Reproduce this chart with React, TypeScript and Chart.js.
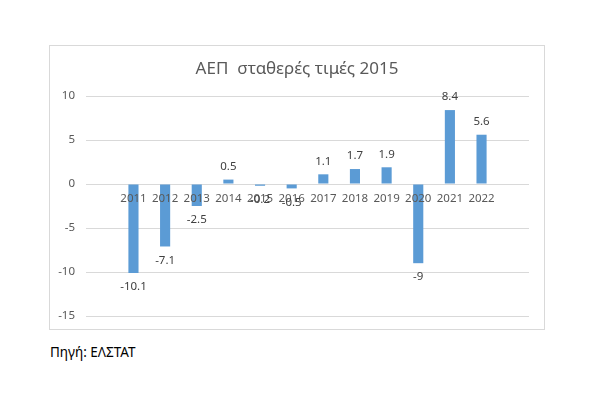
import React, { useEffect, useRef } from "react";
import { Chart, registerables } from "chart.js";

Chart.register(...registerables);

const TITLE = "ΑΕΠ  σταθερές τιμές 2015";
const SOURCE = "Πηγή: ΕΛΣΤΑΤ";
const categories = ["", "2011", "2012", "2013", "2014", "2015", "2016", "2017", "2018", "2019", "2020", "2021", "2022", ""];
const values: (number | null)[] = [null, -10.1, -7.1, -2.5, 0.5, -0.2, -0.5, 1.1, 1.7, 1.9, -9, 8.4, 5.6, null];
const yMin = -15;
const yMax = 10;
const yStep = 5;

const FONT = "'Noto Sans', 'DejaVu Sans', sans-serif";

const labelPlugin = {
  id: "valueLabels",
  afterDatasetsDraw(chart: any) {
    const ctx = chart.ctx;
    const meta = chart.getDatasetMeta(0);
    const xs = chart.scales.x;
    const ys = chart.scales.y;
    const zeroY = ys.getPixelForValue(0);
    ctx.save();
    // category labels along the zero line, drawn over the bars
    ctx.font = `11.5px ${FONT}`;
    ctx.fillStyle = "#595959";
    ctx.textAlign = "center";
    ctx.textBaseline = "middle";
    categories.forEach((c, i) => {
      if (!c) return;
      ctx.fillText(c, xs.getPixelForValue(i), zeroY + 15);
    });
    // value labels
    ctx.fillStyle = "#404040";
    meta.data.forEach((bar: any, i: number) => {
      const v = values[i];
      if (v === null || v === undefined) return;
      const y = v >= 0 ? bar.y - 13 : bar.y + 14;
      ctx.fillText(String(v), bar.x, y);
    });
    ctx.restore();
  },
  afterDraw(chart: any) {
    const ctx = chart.ctx;
    ctx.save();
    ctx.font = `17px ${FONT}`;
    ctx.fillStyle = "#595959";
    ctx.textAlign = "center";
    ctx.textBaseline = "middle";
    ctx.fillText(TITLE, chart.width / 2, 23.5);
    ctx.restore();
  },
};

export default function App() {
  const ref = useRef<HTMLCanvasElement>(null);
  useEffect(() => {
    if (!ref.current) return;
    const chart = new Chart(ref.current, {
      type: "bar",
      data: {
        labels: categories,
        datasets: [
          {
            data: values,
            backgroundColor: "#5B9BD5",
            borderWidth: 0,
            barPercentage: 0.32,
            categoryPercentage: 1,
          },
        ],
      },
      options: {
        animation: false,
        responsive: false,
        layout: { padding: { top: 50, left: 0, right: 15, bottom: 13 } },
        plugins: {
          legend: { display: false },
          title: { display: false },
          tooltip: { enabled: false },
        },
        scales: {
          x: {
            display: false,
          },
          y: {
            min: yMin,
            max: yMax,
            grid: {
              color: "#d9d9d9",
              lineWidth: 1,
              drawTicks: true,
              tickLength: 11,
              tickColor: "rgba(0,0,0,0)",
            },
            border: { display: false },
            ticks: {
              stepSize: yStep,
              color: "#595959",
              font: { family: FONT, size: 11.5 },
              padding: 0,
            },
            afterFit(scale: any) {
              scale.width = 36;
            },
          },
        },
      },
      plugins: [labelPlugin],
    });
    return () => chart.destroy();
  }, []);

  return (
    <div style={{ position: "relative", width: 584, height: 380 }}>
      <div
        style={{
          position: "absolute",
          left: 41,
          top: 37,
          width: 494,
          height: 283,
          border: "1px solid #d9d9d9",
          background: "#fff",
        }}
      >
        <canvas ref={ref} width={494} height={283} style={{ display: "block", width: 494, height: 283 }} />
      </div>
      <div
        style={{
          position: "absolute",
          left: 42,
          top: 335,
          fontFamily: FONT,
          fontSize: 13.5,
          lineHeight: "18px",
          color: "#000",
        }}
      >
        {SOURCE}
      </div>
    </div>
  );
}
